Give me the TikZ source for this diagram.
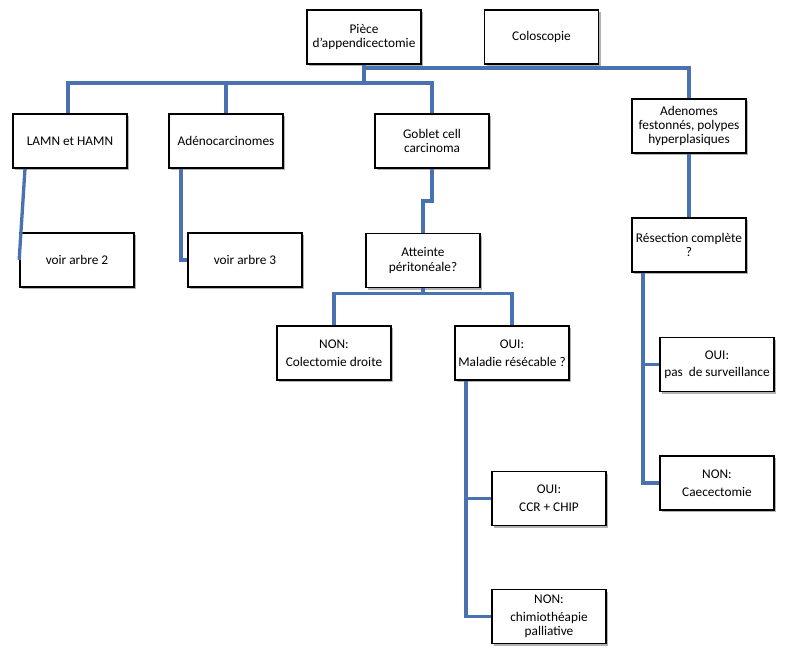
\documentclass[tikz,border=0pt]{standalone}
\usepackage{fontspec}
\setmainfont{Carlito}
\usetikzlibrary{shadows}
\definecolor{linkblue}{RGB}{74,114,176}
\tikzset{
  box/.style={draw=black, line width=1.7pt, fill=white, minimum width=114pt, minimum height=54pt,
    align=center, inner sep=2pt, font=\fontsize{13.3}{14.2}\selectfont,
    drop shadow={shadow xshift=2pt, shadow yshift=-2pt, fill=black, opacity=0.3}},
  link/.style={draw=linkblue, line width=3.3pt}
}
\begin{document}
\begin{tikzpicture}[x=1pt,y=-1pt]
\useasboundingbox (0,0) rectangle (800,656);
% connectors
\coordinate (piecesouth) at (364,64);
\node[box] (piece) at (364,37) {Pièce\\d'appendicectomie};
\node[box] (colo) at (541.5,37) {Coloscopie};
\node[box] (lamn) at (70,141) {LAMN et HAMN};
\node[box] (adeno) at (226,141) {Adénocarcinomes};
\node[box] (goblet) at (432,141) {Goblet cell\\carcinoma};
\node[box] (voir2) at (77,260) {voir arbre 2};
\node[box] (voir3) at (245,260) {voir arbre 3};
\node[box] (atteinte) at (423,260.5) {Atteinte\\péritonéale?};
\node[box] (non1) at (334,353) {NON:\\[4pt]Colectomie droite};
\node[box] (oui1) at (512,353) {OUI:\\[4pt]Maladie résécable ?};
\node[box] (adenomes) at (689,126) {Adenomes\\festonnés, polypes\\hyperplasiques};
\node[box] (resection) at (689,245) {Résection complète\\?};
\node[box] (ouipas) at (717,364.5) {OUI:\\[3pt]pas\ \ de surveillance};
\node[box] (noncaec) at (717,483) {NON:\\[4pt]Caecectomie};
\node[box] (ccr) at (549,498.5) {OUI:\\[4pt]CCR + CHIP};
\node[box] (chimio) at (549,616.5) {NON:\\[4pt]chimiothéapie\\palliative};
\coordinate (top) at ([yshift=-3pt]piece.south);
\coordinate (hub) at ([yshift=-18pt]piece.south);
\draw[link] (piece.south) -- (hub);
\draw[link] (top) -| (adenomes.north);
\draw[link] ([xshift=-2pt]lamn.north) |- (hub) -| (goblet.north);
\draw[link] (adeno.north) -- (adeno.north |- hub);
\draw[link] ([xshift=-45pt]lamn.south) -- (voir2.west);
\draw[link] ([xshift=-45pt]adeno.south) |- (voir3.west);
\coordinate (g1) at ([yshift=-32pt]goblet.south);
\draw[link] (goblet.south) -- (g1) -| (atteinte.north);
\coordinate (a1) at ([yshift=-5pt]atteinte.south);
\draw[link] (atteinte.south) -- (a1);
\draw[link] (non1.north) |- (a1) -| (oui1.north);
\draw[link] ([xshift=-46pt]oui1.south) |- (chimio.west);
\draw[link] ([xshift=-46pt]oui1.south |- ccr.west) -- (ccr.west);
\draw[link] (adenomes.south) -- (resection.north);
\draw[link] ([xshift=-46pt]resection.south) |- (noncaec.west);
\draw[link] ([xshift=-46pt]resection.south |- ouipas.west) -- (ouipas.west);
\end{tikzpicture}
\end{document}
